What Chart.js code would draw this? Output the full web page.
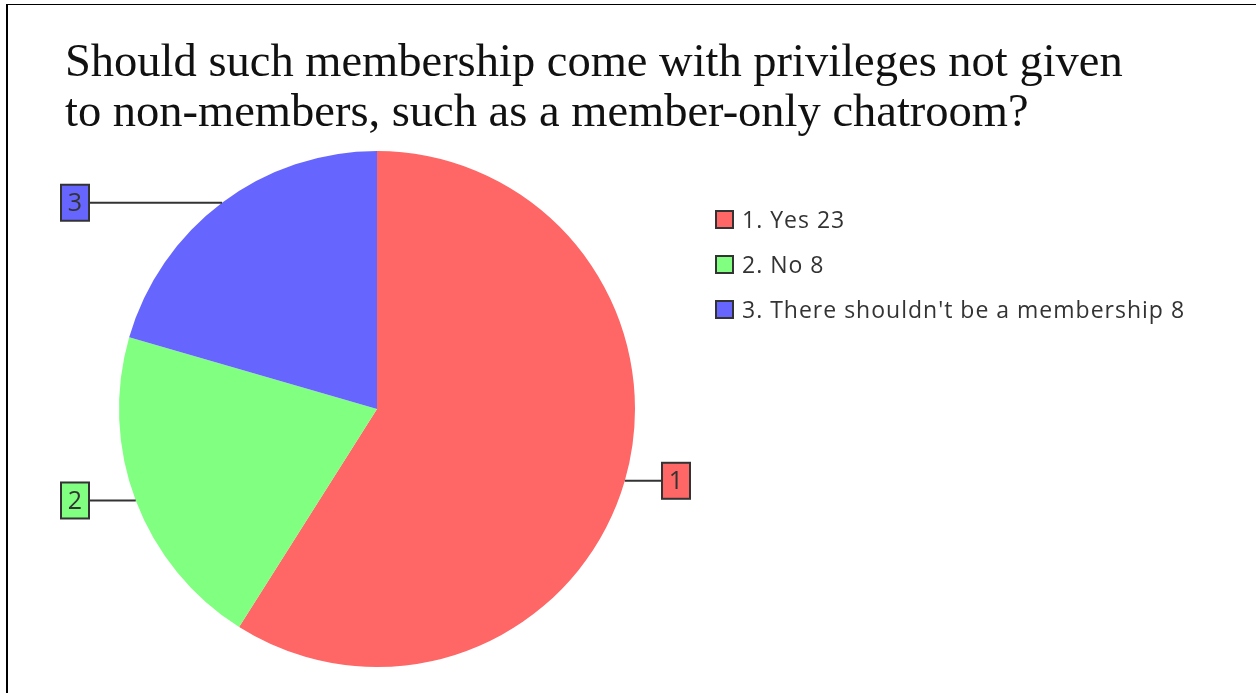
<!DOCTYPE html>
<html>
<head>
<meta charset="utf-8">
<script src="https://cdn.jsdelivr.net/npm/chart.js@4/dist/chart.umd.min.js"></script>
<style>
  html, body { margin: 0; padding: 0; background: #fff; }
  #wrap { position: relative; width: 1256px; height: 693px; overflow: hidden; }
  #frame { position: absolute; left: 6px; top: 4px; width: 1300px; height: 800px;
           border-left: 2px solid #000; border-top: 1px solid #000; }
  #myChart { position: absolute; left: 0; top: 0; }
</style>
</head>
<body>
<div id="wrap">
  <div id="frame"></div>
  <canvas id="myChart" width="1256" height="693"></canvas>
</div>
<script>
const titleLines = ['Should such membership come with privileges not given',
                    'to non-members, such as a member-only chatroom?'];
const answers = ['1. Yes', '2. No', "3. There shouldn't be a membership"];
const votes = [23, 8, 8];
const tags = ['1', '2', '3'];
const sliceColors = ['#ff6666', '#80ff80', '#6666ff'];

// title, legend and the numbered callouts are drawn by hand
const extrasPlugin = {
    id: 'extras',
    afterDatasetsDraw(chart) {
        const ctx = chart.ctx;
        const arcs = chart.getDatasetMeta(0).data;
        ctx.save();
        arcs.forEach((arc, i) => {
            const p = arc.getProps(['x', 'y', 'startAngle', 'endAngle', 'outerRadius'], true);
            const mid = (p.startAngle + p.endAngle) / 2;
            const ex = p.x + Math.cos(mid) * p.outerRadius;
            const ey = p.y + Math.sin(mid) * p.outerRadius;
            const right = ex > p.x;
            const bw = 28, bh = 36;
            const bx = right ? p.x + p.outerRadius + 27 : p.x - p.outerRadius - 30 - bw;
            const by = ey - bh / 2;
            ctx.strokeStyle = '#333';
            ctx.lineWidth = 2;
            ctx.beginPath();
            ctx.moveTo(ex, ey);
            ctx.lineTo(right ? bx : bx + bw, ey);
            ctx.stroke();
            ctx.fillStyle = sliceColors[i];
            ctx.fillRect(bx, by, bw, bh);
            ctx.strokeRect(bx, by, bw, bh);
            ctx.fillStyle = '#333';
            ctx.font = '25px "Open Sans"';
            ctx.textAlign = 'center';
            ctx.textBaseline = 'middle';
            ctx.fillText(tags[i], bx + bw / 2, ey + 1);
        });
        ctx.restore();
    },
    afterDraw(chart) {
        const ctx = chart.ctx;
        ctx.save();
        ctx.fillStyle = '#111';
        ctx.font = '46.5px "Liberation Serif"';
        ctx.textAlign = 'left';
        ctx.textBaseline = 'alphabetic';
        titleLines.forEach((t, i) => ctx.fillText(t, 65, 76 + i * 50));

        ctx.font = '23px "Open Sans"';
        ctx.letterSpacing = '1px';
        answers.forEach((a, i) => {
            const top = 211 + i * 45;
            ctx.fillStyle = sliceColors[i];
            ctx.fillRect(716, top, 17, 17);
            ctx.strokeStyle = '#333';
            ctx.lineWidth = 2;
            ctx.strokeRect(716, top, 17, 17);
            ctx.fillStyle = '#333';
            ctx.fillText(a + ' ' + votes[i], 742, top + 17);
        });
        ctx.restore();
    }
};

const ctx = document.getElementById('myChart');

new Chart(ctx, {
    type: 'pie',
    data: {
        labels: answers,
        datasets: [{
            data: votes,
            backgroundColor: sliceColors,
            borderWidth: 0
        }]
    },
    options: {
        responsive: false,
        animation: false,
        layout: {
            padding: { left: 119, right: 621, top: 151, bottom: 26 }
        },
        plugins: {
            legend: { display: false },
            tooltip: { enabled: false }
        }
    },
    plugins: [extrasPlugin]
});
</script>
</body>
</html>
